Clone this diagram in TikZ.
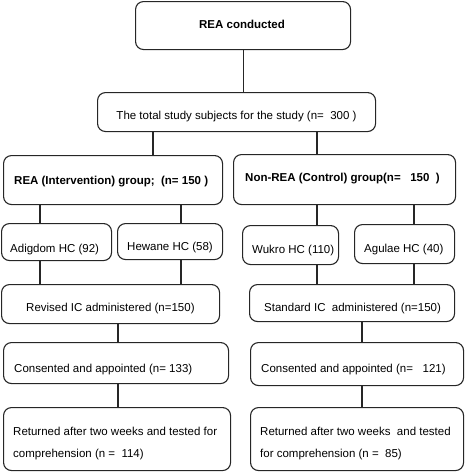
\documentclass[tikz,border=0pt]{standalone}
\usepackage{fontspec}
\setmainfont{Liberation Sans}
\begin{document}
\begin{tikzpicture}[x=1pt,y=-1pt,
  box/.style={draw=black!85,line width=1.1pt,rounded corners=8pt,inner sep=0pt,anchor=north west},
  txt/.style={inner sep=0pt,font=\fontsize{11.5}{14}\selectfont},
  btxt/.style={txt,font=\fontsize{11.5}{14}\selectfont\bfseries},
  conn/.style={draw=black!85,line width=1.1pt}]
\useasboundingbox (0,0) rectangle (473,471);
% boxes
\node[box,minimum width=215pt,minimum height=48pt] (b1) at (135,1) {};
\node[box,minimum width=278pt,minimum height=39pt] (b2) at (97,92) {};
\node[box,minimum width=219pt,minimum height=49pt] (g1) at (3,155) {};
\node[box,minimum width=222pt,minimum height=50pt] (g2) at (233,154) {};
\node[box,minimum width=110pt,minimum height=37pt] (h1) at (1,223) {};
\node[box,minimum width=105pt,minimum height=36pt] (h2) at (117,223) {};
\node[box,minimum width=96pt,minimum height=39pt] (h3) at (242,225) {};
\node[box,minimum width=100pt,minimum height=39pt] (h4) at (354,224) {};
\node[box,minimum width=218pt,minimum height=39pt] (r1) at (1,284) {};
\node[box,minimum width=205pt,minimum height=37pt] (r2) at (249,284) {};
\node[box,minimum width=225pt,minimum height=41pt] (c1) at (3,342) {};
\node[box,minimum width=213pt,minimum height=43pt] (c2) at (250,342) {};
\node[box,minimum width=227pt,minimum height=63pt] (t1) at (3,407) {};
\node[box,minimum width=213pt,minimum height=63pt] (t2) at (250,407) {};
% texts
\node[btxt,anchor=mid] (tb1) at (242,26) {REA conducted};
\node[txt,anchor=mid] (tb2) at (236.5,117) {The total study subjects for the study (n=\ \ 300 )};
\node[btxt,anchor=mid west] (tg1) at (14,182) {REA (Intervention) group;\ \ (n= 150 )};
\node[btxt,anchor=mid west] (tg2) at (245,179) {Non-REA (Control) group(n=\ \ \ 150\ \ )};
\node[txt,anchor=mid west] (th1) at (10,250) {Adigdom HC (92)};
\node[txt,anchor=mid west] (th2) at (127,248) {Hewane HC (58)};
\node[txt,anchor=mid west] (th3) at (252,251) {Wukro HC (110)};
\node[txt,anchor=mid west] (th4) at (364,250) {Agulae HC (40)};
\node[txt,anchor=mid west] (tr1) at (26,309) {Revised IC administered (n=150)};
\node[txt,anchor=mid west] (tr2) at (264,309) {Standard IC\ \ administered (n=150)};
\node[txt,anchor=mid west] (tc1) at (14,370) {Consented and appointed (n= 133)};
\node[txt,anchor=mid west] (tc2) at (261,370) {Consented and appointed (n=\ \ \ 121)};
\node[txt,anchor=mid west] (tt1a) at (13,433) {Returned after two weeks and tested for};
\node[txt,anchor=mid west] (tt1b) at (13,455) {comprehension (n =\ \ 114)};
\node[txt,anchor=mid west] (tt2a) at (260,433) {Returned after two weeks\ \ and tested};
\node[txt,anchor=mid west] (tt2b) at (260,455) {for comprehension (n =\ \ 85)};
% connectors
\draw[conn] (b1.south) -- (b1.south |- b2.north);
\draw[conn] (b2.south -| 153,0) -- (g1.north -| 153,0);
\draw[conn] (b2.south -| 317,0) -- (g2.north -| 317,0);
\draw[conn] (g1.south -| 40,0) -- (h1.north -| 40,0);
\draw[conn] (g1.south -| 181,0) -- (h2.north -| 181,0);
\draw[conn] (g2.south -| 317,0) -- (h3.north -| 317,0);
\draw[conn] (g2.south -| 414,0) -- (h4.north -| 414,0);
\draw[conn] (h1.south -| 40,0) -- (r1.north -| 40,0);
\draw[conn] (h2.south -| 181,0) -- (r1.north -| 181,0);
\draw[conn] (h3.south -| 317,0) -- (r2.north -| 317,0);
\draw[conn] (h4.south -| 414,0) -- (r2.north -| 414,0);
\draw[conn] (r1.south -| 118,0) -- (c1.north -| 118,0);
\draw[conn] (c1.south -| 118,0) -- (t1.north -| 118,0);
\draw[conn] (r2.south -| 362,0) -- (c2.north -| 362,0);
\draw[conn] (c2.south -| 362,0) -- (t2.north -| 362,0);
\end{tikzpicture}
\end{document}
